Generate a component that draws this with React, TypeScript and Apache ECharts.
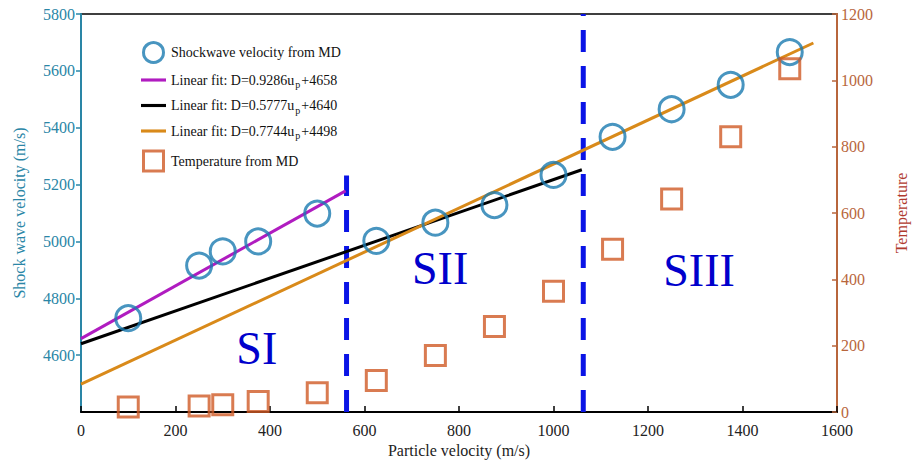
import React, { useEffect, useRef } from "react";
import * as echarts from "echarts";

const particleVelocity = [100, 250, 300, 375, 500, 625, 750, 875, 1000, 1125, 1250, 1375, 1500];
const shockVelocity = [4730, 4915, 4965, 5000, 5098, 5002, 5066, 5128, 5234, 5368, 5465, 5551, 5666];
const temperature = [15, 18, 22, 32, 58, 95, 170, 258, 364, 491, 642, 830, 1035];

const fit1 = [[0, 4658], [560, 5178]];
const fit2 = [[0, 4640], [1060, 5252]];
const fit3 = [[0, 4498], [1550, 5698]];
const boundary1 = [[562, 4400], [562, 5232]];
const boundary2 = [[1063, 4400], [1063, 5800]];

const regionNames = ["SI", "SII", "SIII"];
const regionX = [372, 760, 1308];
const regionY = [4622, 4905, 4898];

const xTicks = { min: 0, max: 1600, interval: 200 };
const yLeft = { min: 4400, max: 5800, interval: 200 };
const yRight = { min: 0, max: 1200, interval: 200 };

const names = {
  shock: "Shockwave velocity from MD",
  f1: "Linear fit: D=0.9286up+4658",
  f2: "Linear fit: D=0.5777up+4640",
  f3: "Linear fit: D=0.7744up+4498",
  temp: "Temperature from MD",
};

const SERIF = "'Liberation Serif', 'DejaVu Serif', serif";
const C_CIRCLE = "#1a7ab0";
const C_SQUARE = "#d05a26";
const C_MAGENTA = "#b01cc0";
const C_ORANGE = "#d98a1a";
const C_DASH = "#0a14e6";
const C_LEFT = "#2a86a6";
const C_RIGHT = "#b8663c";
const SQUARE_ICON = "path://M0,0H10V10H0Z";
const LINE_ICON = "path://M0,0H24V3H0Z";

const plain = (v: number) => String(v);

export default function App() {
  const ref = useRef<HTMLDivElement>(null);
  useEffect(() => {
    if (!ref.current) return;
    const chart = echarts.init(ref.current, null, { renderer: "svg" });
    const option = {
      animation: false,
      backgroundColor: "#ffffff",
      grid: {
        left: 81,
        right: 79,
        top: 14,
        bottom: 60,
        show: true,
        borderColor: "#000",
        borderWidth: 1.5,
        backgroundColor: "transparent",
      },
      legend: {
        orient: "vertical",
        left: 141,
        top: 41,
        itemWidth: 25,
        itemHeight: 20,
        itemGap: 9,
        padding: 0,
        selectedMode: false,
        data: [
          { name: names.shock, icon: "circle", itemStyle: { color: "#fff", borderColor: C_CIRCLE, borderWidth: 3 } },
          { name: names.f1, icon: LINE_ICON, itemStyle: { color: C_MAGENTA, borderWidth: 0 } },
          { name: names.f2, icon: LINE_ICON, itemStyle: { color: "#000", borderWidth: 0 } },
          { name: names.f3, icon: LINE_ICON, itemStyle: { color: C_ORANGE, borderWidth: 0 } },
          { name: names.temp, icon: SQUARE_ICON, itemStyle: { color: "#fff", borderColor: C_SQUARE, borderWidth: 3 } },
        ],
        formatter: (name: string) => {
          const m = name.match(/^(Linear fit: D=[\d.]+u)p(\+\d+)$/);
          if (m) return `{t|${m[1]}}{s|p}{t|${m[2]}}`;
          return `{t|${name}}`;
        },
        textStyle: {
          fontFamily: SERIF,
          fontSize: 14,
          color: "#111",
          rich: {
            t: { fontFamily: SERIF, fontSize: 14, color: "#111" },
            s: { fontFamily: SERIF, fontSize: 10, color: "#111", padding: [9, 1, 0, 1] },
          },
        },
      },
      xAxis: {
        type: "value",
        ...xTicks,
        name: "Particle velocity (m/s)",
        nameLocation: "middle",
        nameGap: 30,
        nameTextStyle: { fontFamily: SERIF, fontSize: 16, color: "#222" },
        axisLine: { lineStyle: { color: "#000", width: 2 } },
        axisTick: { inside: true, length: 6, lineStyle: { color: "#000", width: 1.5 } },
        axisLabel: { fontFamily: SERIF, fontSize: 16, color: "#222", margin: 10, formatter: plain },
        splitLine: { show: false },
      },
      yAxis: [
        {
          type: "value",
          ...yLeft,
          position: "left",
          name: "Shock wave velocity (m/s)",
          nameLocation: "middle",
          nameGap: 54,
          nameTextStyle: { fontFamily: SERIF, fontSize: 16, color: C_LEFT },
          axisLine: { show: true, lineStyle: { color: C_LEFT, width: 2 } },
          axisTick: { show: true, inside: false, length: 5, lineStyle: { color: C_LEFT, width: 1.5 } },
          axisLabel: { fontFamily: SERIF, fontSize: 16, color: C_LEFT, margin: 6, showMinLabel: false, formatter: plain },
          splitLine: { show: false },
        },
        {
          type: "value",
          ...yRight,
          position: "right",
          name: "Temperature",
          nameLocation: "middle",
          nameGap: 56,
          nameRotate: 90,
          nameTextStyle: { fontFamily: SERIF, fontSize: 16, color: "#b03a2e" },
          axisLine: { show: true, lineStyle: { color: C_RIGHT, width: 2 } },
          axisTick: { show: true, inside: true, length: 5, lineStyle: { color: C_RIGHT, width: 1.5 } },
          axisLabel: { fontFamily: SERIF, fontSize: 16, color: C_RIGHT, margin: 4, formatter: plain },
          splitLine: { show: false },
        },
      ],
      series: [
        {
          name: names.f1,
          type: "line",
          data: fit1,
          symbol: "none",
          lineStyle: { color: C_MAGENTA, width: 3 },
          itemStyle: { color: C_MAGENTA },
          z: 3,
        },
        {
          name: names.f2,
          type: "line",
          data: fit2,
          symbol: "none",
          lineStyle: { color: "#000", width: 3 },
          itemStyle: { color: "#000" },
          z: 3,
        },
        {
          name: names.f3,
          type: "line",
          data: fit3,
          symbol: "none",
          lineStyle: { color: C_ORANGE, width: 3 },
          itemStyle: { color: C_ORANGE },
          z: 4,
        },
        {
          name: "boundary1",
          type: "line",
          data: boundary1,
          symbol: "none",
          lineStyle: { color: C_DASH, width: 5, type: [22, 14] },
          z: 2,
        },
        {
          name: "boundary2",
          type: "line",
          data: boundary2,
          symbol: "none",
          lineStyle: { color: C_DASH, width: 5, type: [22, 14] },
          z: 2,
        },
        {
          name: names.shock,
          type: "scatter",
          data: particleVelocity.map((x, i) => [x, shockVelocity[i]]),
          symbol: "circle",
          symbolSize: 25,
          itemStyle: { color: "rgba(255,255,255,0)", borderColor: C_CIRCLE, borderWidth: 3 },
          z: 5,
        },
        {
          name: names.temp,
          type: "scatter",
          yAxisIndex: 1,
          data: particleVelocity.map((x, i) => [x, temperature[i]]),
          symbol: "rect",
          symbolSize: 20,
          itemStyle: { color: "rgba(255,255,255,0)", borderColor: C_SQUARE, borderWidth: 3 },
          z: 5,
        },
        {
          name: "regions",
          type: "scatter",
          data: regionNames.map((n, i) => ({ name: n, value: [regionX[i], regionY[i]] })),
          symbolSize: 0,
          itemStyle: { opacity: 1 },
          label: {
            show: true,
            position: "inside",
            formatter: (p: any) => p.name,
            fontFamily: SERIF,
            fontSize: 46,
            color: "#0000cc",
            opacity: 1,
          },
          z: 6,
        },
      ],
    };
    chart.setOption(option as any);
    return () => chart.dispose();
  }, []);
  return <div ref={ref} style={{ position: "fixed", left: 0, top: 0, width: 917, height: 472 }} />;
}
